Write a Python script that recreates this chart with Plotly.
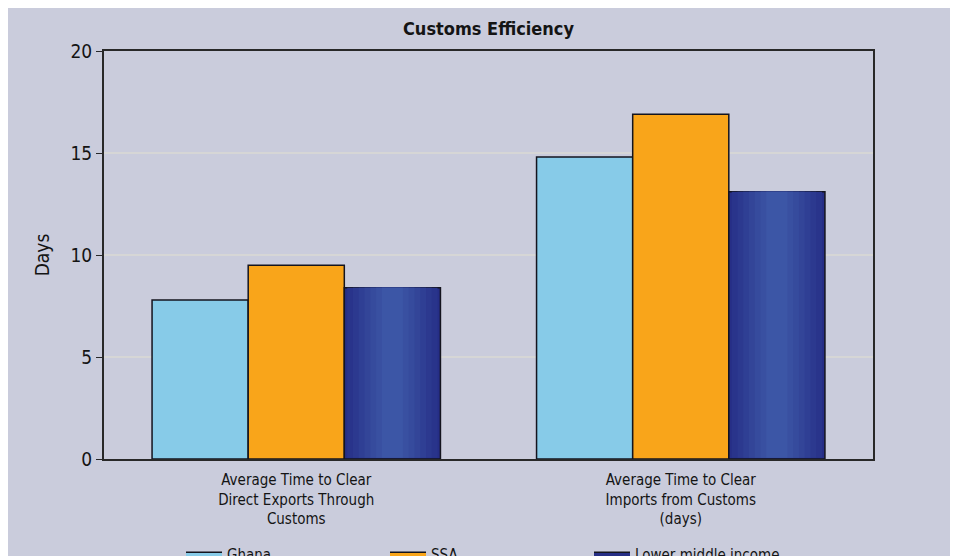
import plotly.graph_objects as go

categories = [
    "Average Time to Clear<br>Direct Exports Through<br>Customs",
    "Average Time to Clear<br>Imports from Customs<br>(days)",
]
series_names = ["Ghana", "SSA", "Lower middle income"]
ghana = [7.8, 14.8]
ssa = [9.5, 16.9]
lmi = [8.4, 13.1]
y_ticks = [0, 5, 10, 15, 20]

W, H = 980, 556
# figure sits at (8,8) inside the page, so figure coords = page coords - 8
L, R, T, B = 96, 865, 43, 451
BG = "rgb(202,204,220)"
FONT = "Liberation Sans Narrow, Arial Narrow, DejaVu Sans Condensed, sans-serif"
EDGE = "rgb(20,20,30)"

fig = go.Figure()
bw = 0.25
offsets = [-0.375, -0.125, 0.125]
colors = ["rgb(135,203,232)", "rgb(249,165,26)", "rgb(38,46,134)"]
for name, vals, off, col in zip(series_names, [ghana, ssa, lmi], offsets, colors):
    fig.add_trace(go.Bar(
        x=categories, y=vals, name=name, offset=off, width=bw,
        marker=dict(color=col, line=dict(color=EDGE, width=1.5)),
        showlegend=False,
    ))

# gradient layers for the "Lower middle income" bars (lighter toward centre)
dark = (38, 46, 134)
light = (60, 86, 166)
fracs = [0.94, 0.82, 0.70, 0.58, 0.46, 0.34, 0.22]
for i, f in enumerate(fracs):
    t = (i + 1) / len(fracs)
    c = tuple(round(dark[k] + (light[k] - dark[k]) * t) for k in range(3))
    w = bw * f
    fig.add_trace(go.Bar(
        x=categories, y=[v - 0.06 for v in lmi], base=[0.06, 0.06],
        offset=0.125 + (bw - w) / 2, width=w,
        marker=dict(color="rgb(%d,%d,%d)" % c, line=dict(width=0)),
        showlegend=False, hoverinfo="skip",
    ))

# legend proxies (wide outlined swatches like the reference)
for name, col in zip(series_names, colors):
    fig.add_trace(go.Scatter(
        x=[None], y=[None], name=name, mode="lines", fill="toself",
        fillcolor=col, line=dict(color=EDGE, width=1.5), showlegend=True,
    ))

fig.update_layout(
    width=W, height=H,
    barmode="overlay",
    paper_bgcolor=BG, plot_bgcolor=BG,
    margin=dict(l=L, r=W - R, t=T, b=H - B, autoexpand=False),
    font=dict(family=FONT, size=15, color="rgb(20,20,20)"),
    title=dict(text="<b>Customs Efficiency</b>", x=(L + R) / 2 / W, xanchor="center",
               y=1 - 21 / H, yanchor="middle", font=dict(size=18, family=FONT)),
    showlegend=True,
    legend=dict(orientation="h", x=(173 - L) / (R - L), xanchor="left",
                y=(B - 530) / (B - T), yanchor="top",
                entrywidth=153, entrywidthmode="pixels", itemwidth=36,
                bgcolor="rgba(0,0,0,0)", font=dict(size=15), traceorder="normal"),
)
fig.update_xaxes(showline=True, mirror=True, linecolor="rgb(40,40,40)", linewidth=2,
                 ticks="", showgrid=False, tickfont=dict(size=15), range=[-0.5, 1.5],
                 ticklabelstandoff=6)
fig.update_yaxes(range=[0, 20], tickvals=y_ticks, showline=True, mirror=True,
                 linecolor="rgb(40,40,40)", linewidth=2, ticks="outside", ticklen=6,
                 tickcolor="rgb(40,40,40)", showgrid=True, gridcolor="rgb(214,214,214)",
                 gridwidth=1.5, zeroline=False, tickfont=dict(size=19),
                 title=dict(text="Days", font=dict(size=19), standoff=16))

fig.write_html("out.html")
